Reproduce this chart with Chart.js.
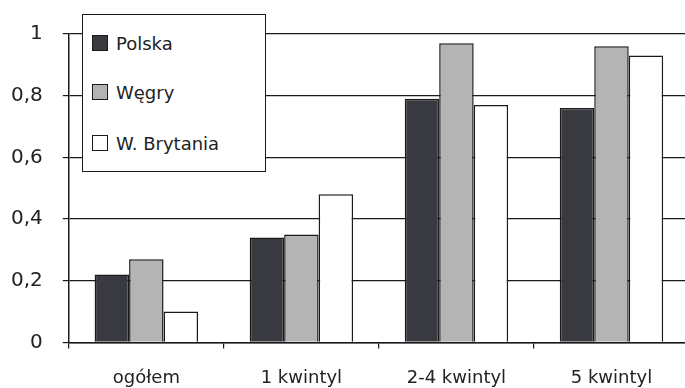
<!DOCTYPE html>
<html>
<head>
<meta charset="utf-8">
<script src="https://cdn.jsdelivr.net/npm/chart.js@4"></script>
<style>
  html, body { margin: 0; padding: 0; background: #fff; overflow: hidden; }
  #wrap { position: relative; width: 689px; height: 408px; }
  #legend {
    position: absolute; left: 82px; top: 14px; width: 182px; height: 156px;
    background: #fff; border: 1.5px solid #1a1a1a;
    font-family: "DejaVu Sans", sans-serif; font-size: 18px; color: #222;
  }
  #legend .item { position: absolute; left: 9px; height: 20px; line-height: 20px; white-space: nowrap; }
  #legend .box { display: inline-block; width: 14px; height: 14px; border: 1px solid #1a1a1a; vertical-align: -1px; margin-right: 8px; }
</style>
</head>
<body>
<div id="wrap">
  <canvas id="myChart"></canvas>
  <div id="legend"></div>
</div>
<script>
const categories = ["ogółem", "1 kwintyl", "2-4 kwintyl", "5 kwintyl"];
const polska = [0.22, 0.34, 0.79, 0.76];
const wegry = [0.27, 0.35, 0.97, 0.96];
const brytania = [0.10, 0.48, 0.77, 0.93];
const seriesNames = ["Polska", "Węgry", "W. Brytania"];

function generateChart() {
  const colors = ["#393940", "#b4b4b4", "#ffffff"];
  const values = [polska, wegry, brytania];
  const info = {
    labels: categories,
    datasets: values.map((v, i) => ({
      label: seriesNames[i],
      data: v,
      backgroundColor: colors[i],
      borderColor: "#1a1a1a",
      borderWidth: 1.5,
      categoryPercentage: 0.667,
      barPercentage: 1,
    })),
  };
  const options = {
    responsive: true,
    maintainAspectRatio: false,
    animation: false,
    layout: { padding: { top: 34, left: -9, right: 0, bottom: 0 } },
    scales: {
      y: {
        min: 0,
        max: 1,
        ticks: {
          stepSize: 0.2,
          color: "#222",
          font: { family: "DejaVu Sans", size: 20 },
          padding: 20,
          callback: (v) => String(Math.round(v * 10) / 10).replace(".", ","),
        },
        grid: { color: "#1a1a1a", lineWidth: 1.2, tickLength: 6 },
        border: { color: "#1a1a1a", width: 1.5 },
      },
      x: {
        ticks: { color: "#222", font: { family: "DejaVu Sans", size: 18 }, padding: 19 },
        grid: { color: "#1a1a1a", lineWidth: 1.2, tickLength: 6, drawOnChartArea: false, offset: true },
        border: { color: "#1a1a1a", width: 1.5 },
      },
    },
    plugins: {
      legend: { display: false },
      tooltip: { enabled: false },
    },
  };
  const myChart = new Chart(document.getElementById("myChart"), { type: "bar", data: info, options });

  // legend box drawn over the plot, like in the original figure
  const legend = document.getElementById("legend");
  const rows = [19, 68, 119];
  myChart.data.datasets.forEach((ds, i) => {
    const item = document.createElement("div");
    item.className = "item";
    item.style.top = rows[i] + "px";
    item.innerHTML = '<span class="box" style="background:' + ds.backgroundColor + '"></span>' + ds.label;
    legend.appendChild(item);
  });
}
generateChart();
</script>
</body>
</html>
